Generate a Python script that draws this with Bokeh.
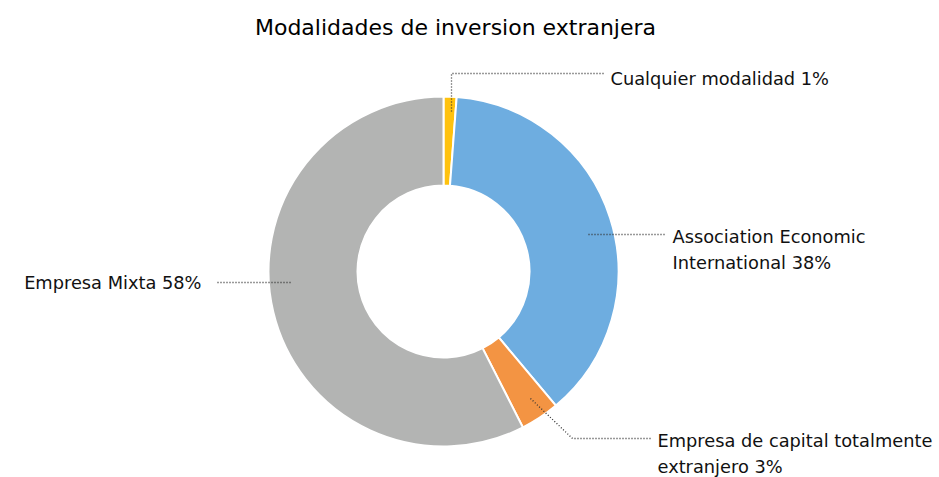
import math
from bokeh.plotting import figure
from bokeh.models import Range1d, ColumnDataSource
from bokeh.core.properties import value
from bokeh.embed import file_html
from bokeh.resources import INLINE

# ---- data ----
categories = ["Cualquier modalidad", "Association Economic International",
              "Empresa de capital totalmente extranjero", "Empresa Mixta"]
shares = [1.2, 37.7, 3.6, 57.5]
label_texts = ["Cualquier modalidad 1%", "Association Economic\nInternational 38%",
               "Empresa de capital totalmente\nextranjero 3%", "Empresa Mixta 58%"]
colors = ["#FFC20E", "#6EADE0", "#F39443", "#B3B4B3"]

W, H = 939, 477
FONT = "DejaVu Sans"

def Y(py):
    return H - py

cx, cy = 443, Y(271)
r_out, r_in = 175, 86

total = sum(shares)
starts, ends = [], []
acc = 0.0
for v in shares:
    starts.append(math.pi / 2 - 2 * math.pi * acc / total)
    acc += v
    ends.append(math.pi / 2 - 2 * math.pi * acc / total)

src = ColumnDataSource(dict(cat=categories, val=shares, start=starts, end=ends, color=colors))

p = figure(width=W, height=H, x_range=Range1d(0, W), y_range=Range1d(0, H),
           output_backend="svg", toolbar_location=None,
           x_axis_type=None, y_axis_type=None, min_border=0)
p.outline_line_color = None
p.xgrid.visible = False
p.ygrid.visible = False
p.background_fill_color = "white"
p.border_fill_color = "white"

p.annular_wedge(x=cx, y=cy, inner_radius=r_in, outer_radius=r_out,
                start_angle="start", end_angle="end", direction="clock",
                fill_color="color", line_color="white", line_width=2, source=src)

# leader lines (layout)
dash = dict(line_color="#333333", line_width=1.3, line_dash="1 2")
p.line([451, 451, 603], [Y(111), Y(73), Y(73)], **dash)
p.line([588, 665], [Y(234), Y(234)], **dash)
p.line([530, 572, 652], [Y(398), Y(438), Y(438)], **dash)
p.line([290, 215], [Y(282), Y(282)], **dash)

# labels
txt = dict(text_font=value(FONT), text_font_size="17.8px", text_color="#111111",
           text_baseline="middle", text_line_height=1.25)
p.text(x=[610], y=[Y(78)], text=[label_texts[0]], text_align="left", **txt)
p.text(x=[672], y=[Y(249)], text=[label_texts[1]], text_align="left", **txt)
p.text(x=[657], y=[Y(453)], text=[label_texts[2]], text_align="left", **txt)
p.text(x=[201], y=[Y(282)], text=[label_texts[3]], text_align="right", **txt)

p.text(x=[455], y=[Y(27)], text=["Modalidades de inversion extranjera"],
       text_align="center", text_baseline="middle", text_font=value(FONT),
       text_font_size="22px", text_color="#000000")

open("out.html", "w").write(file_html(p, INLINE))
